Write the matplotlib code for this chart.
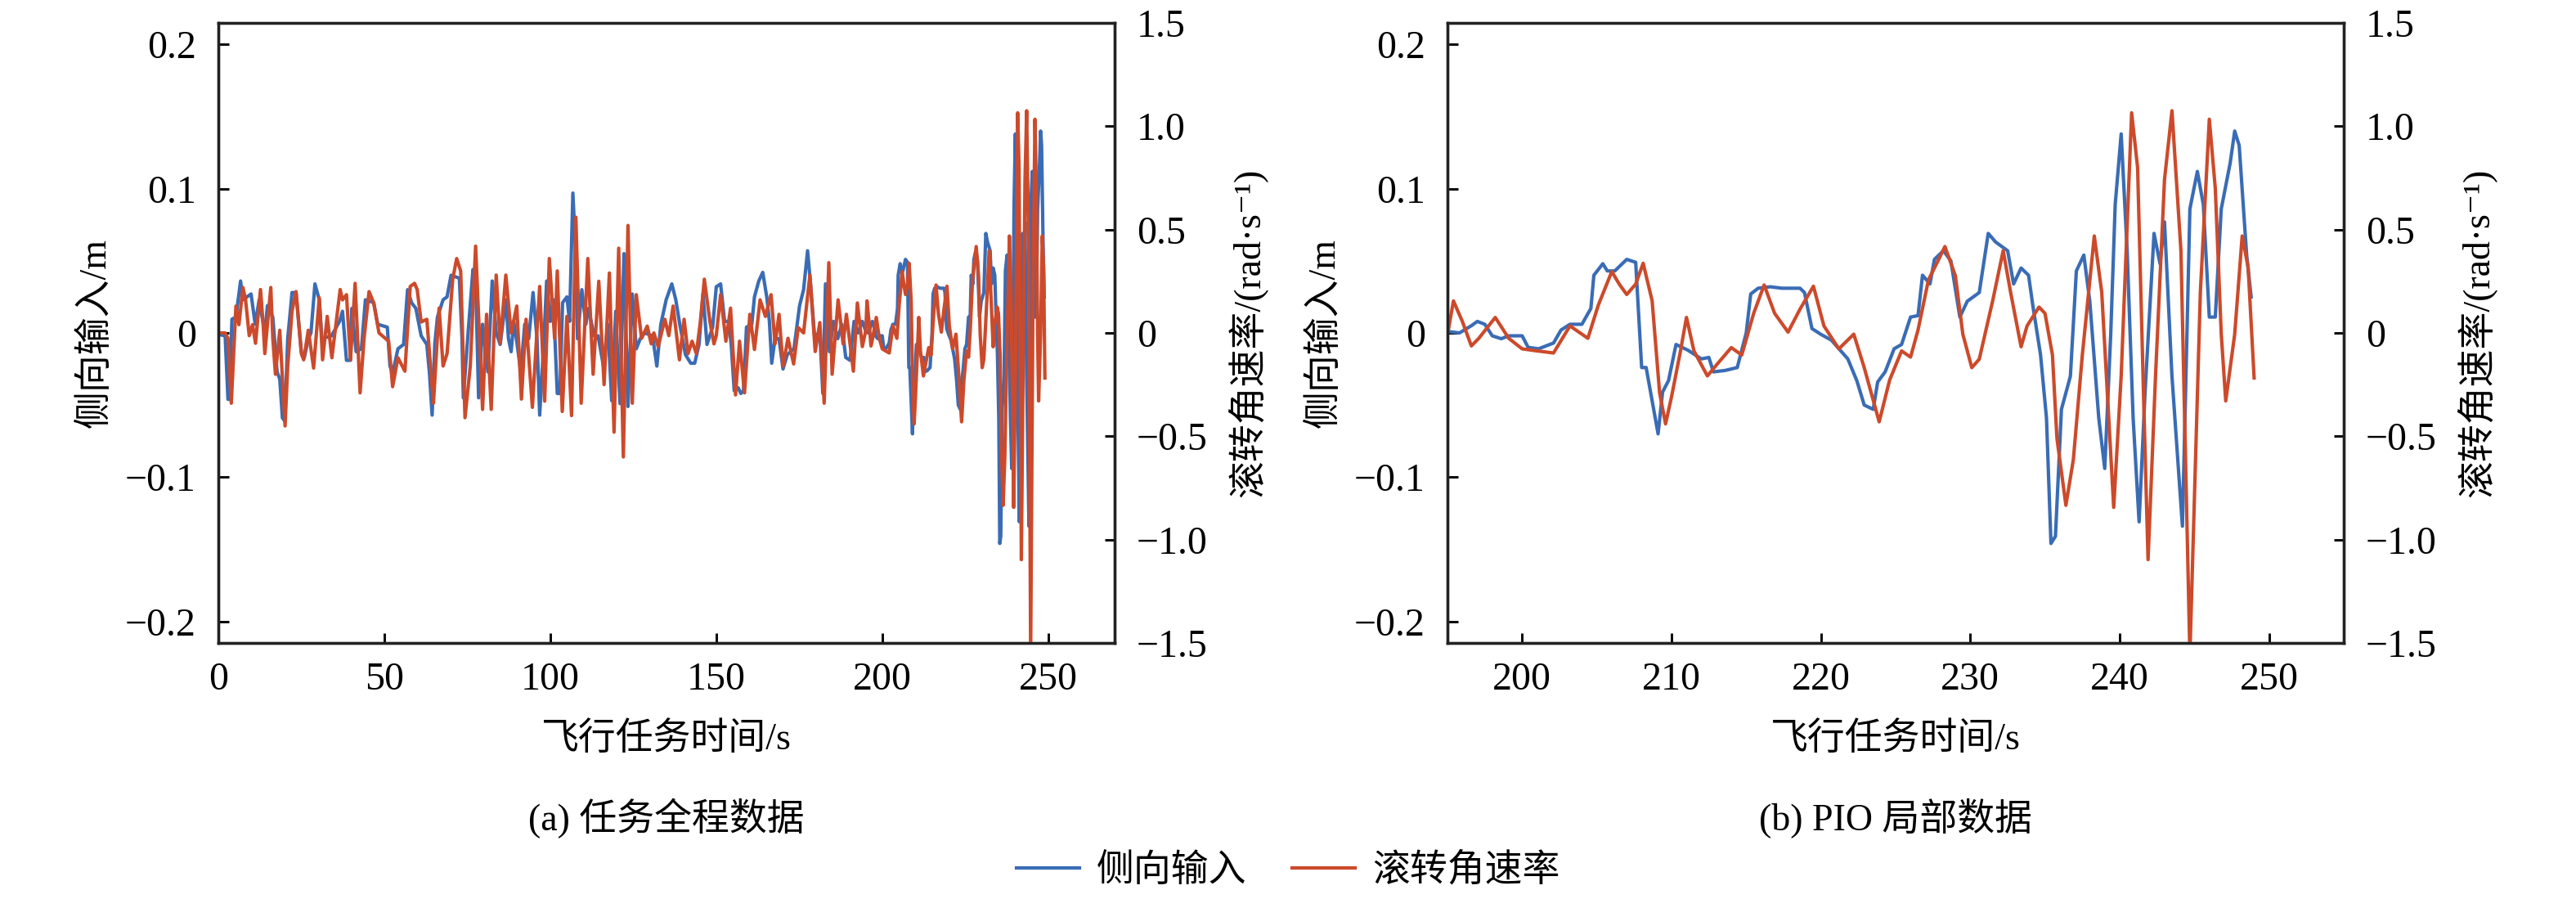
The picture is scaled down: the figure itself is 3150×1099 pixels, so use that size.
import numpy as np
import matplotlib
matplotlib.use('Agg')
import matplotlib.pyplot as plt
from matplotlib.ticker import FixedLocator, FuncFormatter

plt.rcParams['font.family'] = ['Liberation Serif', 'Noto Sans CJK SC', 'DejaVu Sans']
plt.rcParams['font.size'] = 11
plt.rcParams['axes.unicode_minus'] = True

# lateral stick input (m), time in s
t_lat = [0, 2.05, 2.9, 3.3, 4.1, 5.3, 6.7, 7.4, 9.85, 11.1, 12.3, 14.0, 14.8, 16.4, 17.7, 18.5,
         19.3, 20.0, 20.9, 22.2, 23.4, 25.0, 25.9, 27.1, 27.9, 29.1, 30.4, 31.2, 34.1, 36.5, 37.4,
         38.6, 39.8, 40.2, 41.5, 43.1, 44.3, 46.8, 48.0, 50.9, 51.7, 52.5, 54.1, 55.8, 57.0, 58.2,
         59.5, 61.1, 62.8, 63.6, 64.4, 65.2, 66.0, 67.7, 68.9, 70.1, 72.6, 73.4, 73.8, 75.1, 76.7,
         77.5, 78.4, 79.6, 81.2, 82.5, 83.7, 84.9, 86.6, 87.4, 88.2, 89.0, 89.9, 91.1, 92.3, 93.5,
         94.8, 96.0, 96.8, 98.1, 98.9, 100.0, 100.9, 102.1, 102.9, 103.7, 105.0, 105.8, 106.8,
         107.7, 108.2, 109.5, 110.7, 111.5, 113.2, 114.4, 116.0, 117.3, 118.5, 119.7, 121.0, 122.2,
         123.4, 124.7, 125.9, 127.1, 128.4, 130.8, 132.1, 133.3, 134.9, 136.6, 137.8, 139.0, 140.7,
         142.3, 143.5, 144.8, 146.0, 147.2, 148.9, 150.0, 151.3, 152.5, 153.7, 154.5, 155.4, 156.6,
         157.4, 158.2, 159.1, 160.7, 161.5, 162.8, 164.0, 165.2, 166.0, 166.7, 167.7, 168.9, 170.1,
         171.4, 173.4, 175.1, 176.3, 177.5, 178.4, 179.6, 181.2, 182.1, 182.9, 184.1, 185.3, 186.6,
         187.8, 189.0, 190.3, 191.5, 192.7, 194.0,
         195.06, 195.8, 196.6, 197.0, 197.5, 198.0, 198.6, 199.1, 200.0, 200.4, 201.1, 202.1, 202.6,
         203.2, 204.0, 204.6, 204.8, 205.4, 205.7, 206.2, 207.0, 207.6, 208.0, 208.3, 208.7, 209.1,
         209.4, 209.8, 210.3, 211.1, 212.0, 212.5, 212.8, 213.6, 214.4, 215.0, 215.3, 215.8, 216.6,
         217.4, 218.6, 218.9, 219.4, 220.0, 220.7, 221.8, 222.4, 222.9, 223.5, 223.8, 224.3, 224.9,
         225.4, 226.0, 226.5, 226.8, 227.3, 227.6, 228.2, 228.7, 229.3, 229.8, 230.6, 231.2, 231.7,
         232.5, 232.9, 233.4, 233.9, 234.2, 234.7, 235.1, 235.4, 235.7, 236.1, 236.7, 237.1, 237.6,
         238.0, 238.6, 239.0, 239.4, 239.7, 240.1, 240.5, 240.9, 241.3, 241.7, 242.3, 242.7, 243.0,
         243.5, 244.2, 244.7, 245.2, 245.6, 246.0, 246.4, 246.8, 247.4, 247.7, 248.0, 248.5, 248.8]
lat_input = [-0.001, -0.002, -0.046, -0.046, 0.0095, 0.011, 0.036, 0.023, 0.027, 0.006, 0.023, 0.0,
             0.019, 0.011, -0.027, -0.032, -0.059, -0.061, -0.004, 0.028, 0.028, -0.013, -0.017,
             -0.004, 0.0, 0.034, 0.023, -0.004, -0.002, 0.008, 0.015, -0.019, -0.019, 0.017, -0.013,
             -0.011, 0.023, 0.021, 0.006, 0.004, -0.023, -0.028, -0.011, -0.008, 0.030, 0.021, 0.017,
             -0.002, -0.008, -0.028, -0.057, -0.008, 0.011, 0.023, 0.025, 0.040, 0.038, -0.004,
             -0.045, -0.004, 0.044, 0.038, -0.045, 0.006, -0.027, 0.036, 0.0, -0.008, 0.023, -0.004,
             -0.013, 0.008, -0.006, -0.027, 0.006, -0.004, 0.028, -0.004, -0.057, -0.004, 0.036,
             0.008, 0.023, -0.042, -0.042, 0.021, 0.025, 0.008, 0.097, 0.053, -0.004, 0.030, 0.006,
             0.017, -0.002, -0.002, -0.023, 0.006, -0.047, 0.015, -0.049, 0.055, -0.051, 0.027,
             -0.011, -0.004, 0.0, -0.002, -0.023, 0.006, 0.023, 0.034, 0.023, 0.006, -0.015, -0.021,
             -0.021, -0.008, 0.027, -0.008, 0.004, 0.032, 0.034, 0.008, 0.008, -0.008, -0.040,
             -0.038, -0.042, -0.040, 0.004, 0.006, 0.025, 0.036, 0.042, 0.025, 0.008, -0.021, -0.004,
             -0.004, -0.025, -0.015, -0.011, 0.019, 0.030, 0.057, 0.034, -0.002, 0.0, -0.042, 0.034,
             -0.013, 0.008, -0.004, 0.006, -0.017, -0.019, 0.008, 0.0, 0.008,
             0.001, 0.0, 0.005, 0.008, 0.006, -0.002, -0.004, -0.002, -0.002, -0.010, -0.011, -0.007,
             0.002, 0.006, 0.006, 0.017, 0.040, 0.048, 0.043, 0.043, 0.051, 0.049, -0.024, -0.024,
             -0.047, -0.070, -0.041, -0.033, -0.008, -0.012, -0.018, -0.017, -0.027, -0.026, -0.024,
             0.0, 0.027, 0.031, 0.032, 0.031, 0.031, 0.028, 0.003, -0.001, -0.005, -0.018, -0.033,
             -0.050, -0.053, -0.034, -0.027, -0.011, -0.008, 0.011, 0.012, 0.040, 0.034, 0.051, 0.057,
             0.050, 0.011, 0.022, 0.028, 0.069, 0.063, 0.057, 0.034, 0.045, 0.040, 0.018, -0.015,
             -0.059, -0.146, -0.141, -0.053, -0.030, 0.043, 0.054, 0.022, -0.059, -0.094, -0.001,
             0.089, 0.138, 0.057, -0.059, -0.131, -0.041, 0.069, 0.048, 0.077, -0.030, -0.134, 0.086,
             0.112, 0.089, 0.011, 0.011, 0.086, 0.118, 0.140, 0.130, 0.054, 0.025]

# roll rate (rad/s), time in s
t_roll = [0, 2.05, 2.9, 3.9, 5.3, 6.2, 7.4, 8.2, 9.3, 10.3, 11.2, 12.7, 13.5, 14.0, 15.8, 16.4, 17.2,
          18.5, 20.1, 20.9, 22.2, 23.4, 25.0, 25.7, 27.1, 28.7, 30.4, 31.4, 32.8, 34.2, 36.7, 37.4,
          38.6, 39.8, 41.2, 42.7, 43.9, 45.4, 46.8, 48.4, 51.3, 52.5, 54.1, 56.2, 57.8, 59.1, 59.9,
          61.1, 62.8, 64.8, 66.5, 67.7, 68.9, 70.6, 71.8, 73.0, 74.3, 75.9, 77.5, 79.6, 80.8, 82.2,
          83.7, 84.9, 86.6, 88.2, 89.9, 91.3, 92.7, 94.6, 96.8, 98.3, 99.7, 101.3, 102.1, 103.6,
          105.0, 106.4, 107.7, 109.3, 111.3, 112.9, 114.6, 116.2, 117.8, 119.2, 120.6, 122.0, 123.4,
          124.7, 125.9, 127.5, 129.2, 130.4, 131.2, 132.5, 134.5, 135.7, 137.0, 138.9, 140.3, 141.5,
          142.7, 144.0, 145.2, 146.4, 148.1, 149.3, 150.0, 151.3, 152.9, 154.3, 155.8, 157.0, 158.5,
          160.1, 161.5, 163.2, 164.8, 166.5, 167.7, 168.9, 170.1, 171.6, 173.3, 174.7, 176.3, 178.2,
          179.8, 181.2, 182.5, 183.9, 184.9, 186.7, 188.2, 189.2, 191.3, 192.5, 194.0,
          195.06, 195.4, 196.0, 196.6, 197.1, 198.2, 199.1, 200.0, 201.0, 202.1, 203.2, 204.4,
          205.1, 206.0, 206.5, 207.0, 207.6, 208.1, 208.7, 209.2, 209.6, 210.0, 210.6, 211.0, 211.5,
          212.4, 213.1, 214.0, 214.7, 215.5, 216.2, 216.9, 217.8, 218.6, 219.5, 220.2, 221.2, 222.2,
          222.9, 223.9, 224.6, 225.4, 226.0, 226.5, 227.2, 227.9, 228.3, 229.0, 229.5, 230.1, 230.6,
          231.5, 232.2, 232.7, 233.4, 233.8, 234.6, 235.0, 235.5, 235.8, 236.4, 236.9, 237.5, 238.3,
          238.8, 239.6, 240.1, 240.8, 241.2, 241.6, 241.9, 242.4, 243.0, 243.5, 244.1, 244.7, 245.4,
          246.0, 246.4, 246.8, 247.1, 247.7, 248.2, 248.6, 249.0]
roll_rate = [0.0, 0.0, -0.026, -0.34, 0.13, 0.04, 0.22, 0.16, -0.013, 0.04, -0.05, 0.21, 0.04, -0.10,
             0.22, -0.026, -0.20, 0.013, -0.45, -0.16, 0.106, 0.20, -0.10, -0.13, 0.013, -0.17, 0.17,
             -0.13, 0.08, -0.12, 0.21, 0.16, 0.185, -0.13, 0.24, -0.29, -0.026, 0.20, 0.145, 0.0,
             -0.04, -0.26, -0.12, -0.185, 0.225, 0.24, 0.21, 0.053, 0.066, -0.34, 0.12, -0.16, -0.10,
             0.26, 0.36, 0.30, -0.41, -0.16, 0.42, -0.37, 0.09, -0.37, 0.28, -0.05, 0.28, 0.0, 0.13,
             -0.32, 0.066, -0.36, 0.225, -0.33, 0.36, -0.026, 0.30, -0.38, 0.08, -0.40, 0.56, -0.34,
             0.36, -0.20, 0.25, -0.25, 0.29, -0.48, 0.41, -0.60, 0.52, -0.34, 0.185, -0.026, 0.033,
             -0.053, 0.0, -0.066, 0.066, -0.013, 0.13, -0.13, 0.066, -0.10, -0.04, -0.10, 0.053, 0.26,
             0.053, -0.053, -0.013, 0.185, -0.04, 0.12, -0.30, -0.04, -0.29, 0.09, -0.08, 0.16, 0.08,
             0.185, -0.053, 0.09, -0.16, -0.026, -0.15, 0.026, 0.0, 0.28, -0.09, 0.05, -0.34, 0.34,
             -0.20, 0.16, -0.053, 0.09, -0.185, 0.145, -0.066,
             0.014, 0.155, 0.055, -0.063, -0.026, 0.075, -0.026, -0.077, -0.087, -0.097, 0.034,
             -0.026, 0.135, 0.297, 0.236, 0.186, 0.236, 0.337, 0.156, -0.289, -0.44, -0.309, -0.087,
             0.075, -0.087, -0.208, -0.147, -0.071, -0.107, 0.095, 0.232, 0.095, 0.004, 0.115, 0.226,
             0.034, -0.077, -0.006, -0.168, -0.43, -0.228, -0.087, -0.117, 0.014, 0.257, 0.358, 0.418,
             0.277, -0.006, -0.168, -0.127, 0.156, 0.398, 0.196, -0.067, 0.034, 0.125, 0.095, -0.107,
             -0.51, -0.834, -0.612, -0.107, 0.469, 0.196, -0.844, -0.208, 1.065, 0.80, -0.309, -1.097,
             -0.208, 0.741, 1.075, 0.398, -1.56, 0.196, 1.034, 0.70, -0.006, -0.329, -0.006, 0.469,
             0.317, -0.218]

lat_ticks = [-0.2, -0.1, 0, 0.1, 0.2]
roll_ticks = [-1.5, -1.0, -0.5, 0, 0.5, 1.0, 1.5]
panels = [
    {'xlim': (0, 270), 'xticks': [0, 50, 100, 150, 200, 250], 'caption': '(a) 任务全程数据', 'left': 267},
    {'xlim': (195, 255), 'xticks': [200, 210, 220, 230, 240, 250], 'caption': '(b) PIO 局部数据', 'left': 1770},
]

blue = '#3a6cb5'
red = '#cc4a2b'
W, H = 3150, 1099
AW = 1096


def fmt_tick(v, pos):
    if abs(v) < 1e-9:
        return '0'
    return '{:.1f}'.format(v).replace('-', '\u2212')


fig = plt.figure(figsize=(W / 300, H / 300), dpi=300)

lines = []
for p in panels:
    ax = fig.add_axes([p['left'] / W, 1 - 786 / H, AW / W, 758 / H])
    ax2 = ax.twinx()
    l1, = ax.plot(t_lat, lat_input, color=blue, linewidth=1.0, label='侧向输入')
    l2, = ax2.plot(t_roll, roll_rate, color=red, linewidth=1.0, label='滚转角速率')
    lines = [l1, l2]

    ax.set_xlim(*p['xlim'])
    ax.set_ylim(-0.215, 0.215)
    ax2.set_ylim(-1.5, 1.5)
    ax.xaxis.set_major_locator(FixedLocator(p['xticks']))
    ax.yaxis.set_major_locator(FixedLocator(lat_ticks))
    ax2.yaxis.set_major_locator(FixedLocator(roll_ticks))
    ax.yaxis.set_major_formatter(FuncFormatter(fmt_tick))
    ax2.yaxis.set_major_formatter(FuncFormatter(fmt_tick))

    ax.tick_params(axis='both', direction='in', length=3.0, width=0.7, labelsize=11.5, pad=6.5)
    ax.tick_params(axis='x', pad=5.5)
    ax2.tick_params(axis='y', direction='in', length=3.0, width=0.7, labelsize=11.5, pad=6.5)
    for a in (ax, ax2):
        for s in a.spines.values():
            s.set_linewidth(0.8)
            s.set_color('#222222')

    cx = (p['left'] + AW / 2) / W
    ax.set_ylabel('侧向输入/m', fontsize=11)
    ax.yaxis.set_label_coords(-128 / AW, 0.5)
    ax2.set_ylabel('滚转角速率/(rad·s⁻¹)', fontsize=11)
    ax2.yaxis.set_label_coords((AW + 138) / AW, 0.5)
    fig.text(cx, 1 - 905 / H, '飞行任务时间/s', ha='center', va='center', fontsize=11)
    fig.text(cx, 1 - 1000 / H, p['caption'], ha='center', va='center', fontsize=11)

fig.legend(lines, [l.get_label() for l in lines], loc='center', bbox_to_anchor=(0.5, 1 - 1065 / H),
           ncol=2, frameon=False, fontsize=11, handlelength=1.7, handletextpad=0.45,
           columnspacing=1.2, borderpad=0)

fig.savefig('out.png', dpi=300)
